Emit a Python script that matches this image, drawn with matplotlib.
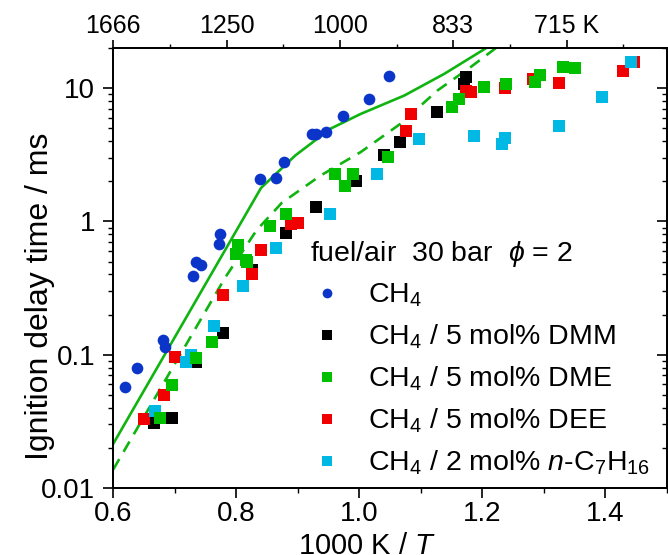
import matplotlib
matplotlib.use('Agg')
import matplotlib.pyplot as plt
from matplotlib.lines import Line2D
from matplotlib.ticker import FixedLocator, LogLocator, NullFormatter

plt.rcParams['font.family'] = ['Liberation Sans', 'DejaVu Sans']
plt.rcParams['mathtext.fontset'] = 'custom'
plt.rcParams['mathtext.rm'] = 'Liberation Sans'
plt.rcParams['mathtext.it'] = 'Liberation Sans:italic'

# 1000 K / T and ignition delay time (ms)
CH4_X = [0.619, 0.639, 0.680, 0.684, 0.729, 0.735, 0.743, 0.773, 0.772, 0.839, 0.864,
         0.877, 0.923, 0.929, 0.946, 0.974, 1.015, 1.048]
CH4_Y = [0.057, 0.080, 0.128, 0.114, 0.387, 0.495, 0.473, 0.81, 0.68, 2.07, 2.13,
         2.79, 4.55, 4.55, 4.68, 6.13, 8.23, 12.4]

DMM_X = [0.666, 0.696, 0.734, 0.778, 0.825, 0.881, 0.930, 0.994, 1.040, 1.066, 1.126,
         1.170, 1.174]
DMM_Y = [0.0309, 0.0337, 0.088, 0.145, 0.43, 0.817, 1.28, 2.0, 3.14, 3.91, 6.57,
         10.8, 12.2]

DME_X = [0.676, 0.696, 0.734, 0.760, 0.802, 0.800, 0.816, 0.818, 0.855, 0.881, 0.961,
         0.989, 0.976, 1.046, 1.150, 1.162, 1.203, 1.238, 1.294, 1.286, 1.331, 1.351]
DME_Y = [0.0337, 0.0589, 0.095, 0.124, 0.66, 0.573, 0.51, 0.495, 0.917, 1.14, 2.25,
         2.25, 1.83, 3.06, 7.25, 8.23, 10.2, 10.8, 12.5, 11.2, 14.3, 14.1]

DEE_X = [0.650, 0.683, 0.701, 0.778, 0.825, 0.840, 0.889, 0.900, 1.075, 1.084, 1.173,
         1.181, 1.237, 1.283, 1.324, 1.428, 1.446]
DEE_Y = [0.0327, 0.0495, 0.096, 0.279, 0.405, 0.606, 0.96, 0.97, 4.76, 6.35, 9.5,
         9.4, 9.95, 11.8, 11.0, 13.5, 15.8]

HEP_X = [0.667, 0.718, 0.726, 0.764, 0.811, 0.864, 0.953, 1.029, 1.097, 1.186, 1.232,
         1.237, 1.325, 1.394, 1.441]
HEP_Y = [0.0377, 0.088, 0.099, 0.163, 0.325, 0.635, 1.14, 2.25, 4.12, 4.39, 3.78,
         4.2, 5.19, 8.51, 15.6]

# simulations (green lines)
SIM_SOLID_X = [0.600, 0.840, 0.896, 0.953, 1.002, 1.073, 1.138, 1.210]
SIM_SOLID_Y = [0.0215, 1.78, 3.13, 4.96, 6.4, 8.8, 12.8, 20.5]
SIM_DASH_X = [0.600, 0.782, 0.833, 0.874, 0.937, 1.002, 1.067, 1.127, 1.181, 1.225]
SIM_DASH_Y = [0.0138, 0.38, 0.86, 1.38, 2.21, 3.31, 5.41, 9.61, 14.4, 20.5]

TOP_TICKS = [0.6, 0.8, 1.0, 1.2, 1.4]
TOP_LABELS = ['1666', '1250', '1000', '833', '715 K']

BLUE = '#0a35c8'
GREEN = '#00c000'
LINE_GREEN = '#10b410'
RED = '#f00000'
CYAN = '#00b8e4'


def plot_ignition(output_file: str) -> None:
  fig = plt.figure(figsize=(6.68, 5.55), dpi=100)
  ax = fig.add_axes([0.1696, 0.1207, 0.8289, 0.7928])

  ax.plot(SIM_SOLID_X, SIM_SOLID_Y, color=LINE_GREEN, lw=1.9, zorder=2)
  ax.plot(SIM_DASH_X, SIM_DASH_Y, color=LINE_GREEN, lw=1.9, dashes=(4.5, 3.2), zorder=2)

  ms = 8
  ax.plot(CH4_X, CH4_Y, 'o', color=BLUE, ms=ms + 0.4, mew=0, zorder=3)
  ax.plot(DMM_X, DMM_Y, 's', color='black', ms=ms, mew=0, zorder=3)
  ax.plot(DEE_X, DEE_Y, 's', color=RED, ms=ms, mew=0, zorder=3)
  ax.plot(HEP_X, HEP_Y, 's', color=CYAN, ms=ms, mew=0, zorder=3)
  ax.plot(DME_X, DME_Y, 's', color=GREEN, ms=ms, mew=0, zorder=3)

  ax.set_xlim(0.6, 1.5)
  ax.set_yscale('log')
  ax.set_ylim(0.01, 20)
  ax.set_xticks([0.6, 0.8, 1.0, 1.2, 1.4])
  ax.set_xticklabels(['0.6', '0.8', '1.0', '1.2', '1.4'])
  ax.xaxis.set_minor_locator(FixedLocator([0.7, 0.9, 1.1, 1.3, 1.5]))
  ax.set_yticks([0.01, 0.1, 1, 10])
  ax.set_yticklabels(['0.01', '0.1', '1', '10'])
  ax.yaxis.set_minor_locator(LogLocator(base=10, subs=range(2, 10)))
  ax.yaxis.set_minor_formatter(NullFormatter())

  ax.tick_params(axis='both', which='major', labelsize=20, width=1.2, length=7, pad=2.2)
  ax.tick_params(axis='both', which='minor', width=1.0, length=3.5)
  ax.tick_params(axis='y', which='major', pad=6)
  ax.tick_params(axis='y', which='both', right=True, labelright=False)

  for spine in ax.spines.values():
    spine.set_linewidth(1.3)

  # right-hand ticks point inward, left/bottom ones outward
  for tick in ax.yaxis.get_major_ticks() + ax.yaxis.get_minor_ticks():
    tick.tick2line.set_marker(matplotlib.markers.TICKLEFT)

  ax.set_xlabel('1000 K / $T$', fontsize=21)
  ax.xaxis.set_label_coords(0.458, -0.1)
  ax.set_ylabel('Ignition delay time / ms', fontsize=23)
  ax.yaxis.set_label_coords(-0.105, 0.435)

  top = ax.twiny()
  top.set_xlim(0.6, 1.577)
  top.set_xticks(TOP_TICKS)
  top.set_xticklabels(TOP_LABELS)
  top.xaxis.set_minor_locator(FixedLocator([0.7, 0.9, 1.1, 1.3, 1.5]))
  top.tick_params(axis='x', which='major', labelsize=18, width=1.2, length=6, pad=1)
  top.tick_params(axis='x', which='minor', width=1.0, length=3)
  for spine in top.spines.values():
    spine.set_linewidth(1.3)

  handles = [
      Line2D([], [], ls='none', marker='o', color=BLUE, ms=7, mew=0),
      Line2D([], [], ls='none', marker='s', color='black', ms=7, mew=0),
      Line2D([], [], ls='none', marker='s', color=GREEN, ms=7, mew=0),
      Line2D([], [], ls='none', marker='s', color=RED, ms=7, mew=0),
      Line2D([], [], ls='none', marker='s', color=CYAN, ms=7, mew=0),
  ]
  labels = [
      'CH$_4$',
      'CH$_4$ / 5 mol% DMM',
      'CH$_4$ / 5 mol% DME',
      'CH$_4$ / 5 mol% DEE',
      'CH$_4$ / 2 mol% $n$-C$_7$H$_{16}$',
  ]
  leg = ax.legend(handles, labels, loc='lower left', bbox_to_anchor=(0.355, 0.025),
                  frameon=False, fontsize=20.5, title='fuel/air  30 bar  $\\phi$ = 2',
                  title_fontsize=20.5, alignment='left', borderpad=0, borderaxespad=0,
                  handlelength=1.2, handletextpad=0.84, labelspacing=0.47)
  leg.set_zorder(5)

  fig.savefig(output_file, dpi=100)


def main() -> None:
  plot_ignition('out.png')


if __name__ == '__main__':
  main()
